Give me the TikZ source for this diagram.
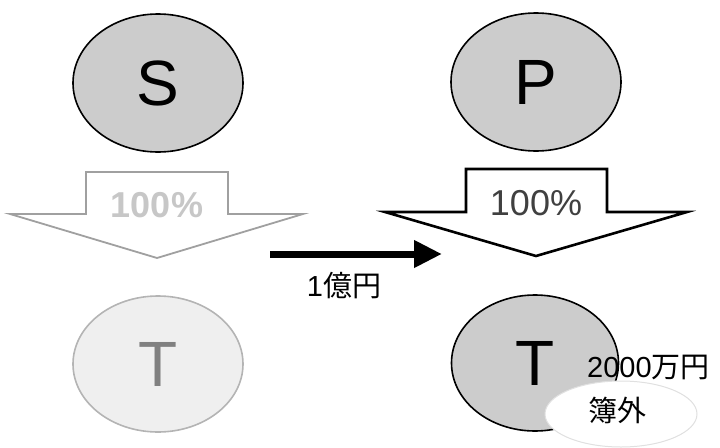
\documentclass[tikz,border=0pt]{standalone}
\usepackage{fontspec}
\setmainfont{Liberation Sans}
\newfontfamily\jpfont{Noto Sans CJK JP}
\usetikzlibrary{shapes.geometric,arrows.meta}
\definecolor{darkfill}{HTML}{CCCCCC}
\definecolor{lightfill}{HTML}{EFEFEF}
\definecolor{lightline}{HTML}{B4B4B4}
\definecolor{arrowgrey}{HTML}{A0A0A0}
\definecolor{lighttext}{HTML}{808080}
\tikzset{
  entity/.style={ellipse, draw=black, line width=1.6pt, fill=darkfill,
    minimum width=170pt, minimum height=138pt, inner sep=0pt,
    font=\fontsize{64}{64}\selectfont},
  faded/.style={entity, draw=lightline, fill=lightfill, text=lighttext},
  pct/.style={font=\fontsize{36}{36}\selectfont},
  jp/.style={font=\fontsize{29}{29}\selectfont, inner sep=0pt},
}
\begin{document}
\begin{tikzpicture}[x=1pt,y=-1pt]
  \useasboundingbox (0,0) rectangle (720,447);
  % parent companies
  \node[entity] (s) at (158,83) {S};
  \node[entity] (p) at (536,82) {P};
  % ownership block arrows
  \draw[arrowgrey, line width=1.8pt, fill=white, line join=miter]
    (86,172) -- (228,172) -- (228,214) -- (303,214) -- (157,258)
    -- (10,214) -- (86,214) -- cycle;
  \node[pct, font=\bfseries\fontsize{36}{36}\selectfont, text=black!22] (pl) at (157,205) {100\%};
  \draw[black, line width=2.6pt, fill=white, line join=miter]
    (466,169) -- (607,169) -- (607,212) -- (687,212) -- (536,256)
    -- (385,212) -- (466,212) -- cycle;
  \node[pct, text=black!75] (pr) at (536,203) {100\%};
  % subsidiaries
  \node[faded, minimum height=136pt] (tl) at (158,364) {T};
  \node[entity, minimum width=167pt, minimum height=136pt] (tr) at (535,363) {T};
  % transfer of the shares
  \coordinate (a0) at (270,254);
  \coordinate (a1) at (442,254);
  \draw[line width=7pt, -{Triangle[length=28pt,width=26pt]}] (a0) -- (a1);
  \node[jp] (price) at (344,286) {1{\jpfont 億円}};
  % off-balance amount
  \node[ellipse, draw=black!12, line width=1pt, fill=white,
    minimum width=152pt, minimum height=66pt] (off) at (621,414) {};
  \node[jp, anchor=west] (amt) at (587,367) {2000{\jpfont 万円}};
  \node[jp] (offt) at (617,410) {\jpfont 簿外};
\end{tikzpicture}
\end{document}
